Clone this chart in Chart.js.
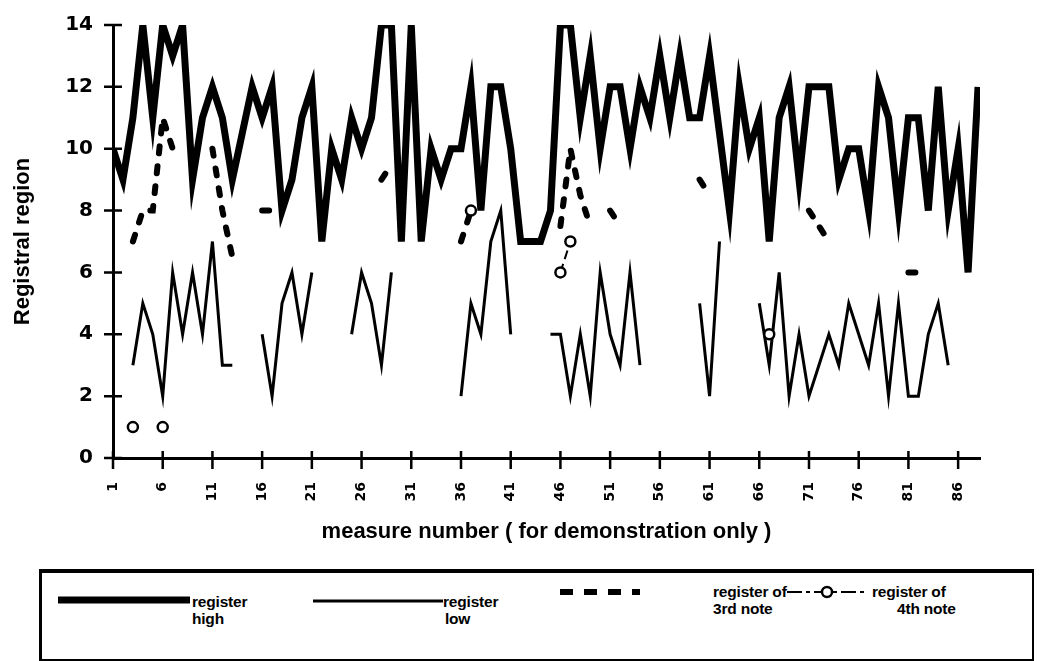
<!DOCTYPE html>
<html>
<head>
<meta charset="utf-8">
<script src="https://cdn.jsdelivr.net/npm/chart.js@4.4.1/dist/chart.umd.min.js"></script>
<style>
  body{margin:0;background:#fff;font-family:"Liberation Sans",Arial,sans-serif;}
  #wrap{position:relative;width:1048px;height:661px;overflow:hidden;}
  #chart{position:absolute;left:0;top:0;}
  #legend{position:absolute;left:39px;top:569px;width:990px;height:86px;border-top:4px solid #000;border-left:3px solid #000;border-right:2px solid #000;border-bottom:2px solid #000;}
  .item{position:absolute;}
  .item svg{position:absolute;overflow:visible;}
  .txt{position:absolute;font-size:15.5px;font-weight:bold;line-height:16.5px;color:#000;white-space:nowrap;letter-spacing:-0.2px;}
</style>
</head>
<body>
<div id="wrap">
  <canvas id="chart" width="1048" height="545"></canvas>
  <div id="legend"></div>
</div>
<script>
/* measures 1..88, register values per measure (null = no note) */
const measures = [1,2,3,4,5,6,7,8,9,10,11,12,13,14,15,16,17,18,19,20,21,22,23,24,25,26,27,28,29,30,
  31,32,33,34,35,36,37,38,39,40,41,42,43,44,45,46,47,48,49,50,51,52,53,54,55,56,57,58,59,60,
  61,62,63,64,65,66,67,68,69,70,71,72,73,74,75,76,77,78,79,80,81,82,83,84,85,86,87,88];
const xTicks = [1,6,11,16,21,26,31,36,41,46,51,56,61,66,71,76,81,86];
const yTicks = [0,2,4,6,8,10,12,14];

const regHigh = [10,9,11,14,11,14,13,14,9,11, 12,11,9,10.5,12,11,12,8,9,11,
  12,7,10,9,11,10,11,14,14,7, 14,7,10,9,10,10,12,8,12,12,
  10,7,7,7,8,14,14,11,13,10, 12,12,10,12,11,13,11,13,11,11,
  13,10.5,8,12,10,11,7,11,12,9, 12,12,12,9,10,10,8,12,11,8,
  11,11,8,12,8,10,6,12];

const regLow = [null,null,3,5,4,2,6,4,6,4, 7,3,3,null,null,4,2,5,6,4,
  6,null,null,null,4,6,5,3,6,null, null,null,null,null,null,2,5,4,7,8,
  4,null,null,null,4,4,2,4,2,6, 4,3,6,3,null,null,null,null,null,5,
  2,7,null,null,null,5,3,6,2,4, 2,3,4,3,5,4,3,5,2,5,
  2,2,4,5,3,null,null,null];

const reg3rd = [null,null,7,8,8,11,10,10,null,null, 10,8,6.5,null,null,8,8,null,null,null,
  null,null,null,null,null,null,null,9,9.5,null, null,null,null,null,null,7,8,null,null,null,
  null,null,null,null,null,7.5,10,8.5,7.5,null, 8,7.5,null,null,null,null,null,null,null,9,
  8.5,null,null,null,null,null,null,null,null,null, 8,7.5,7,null,null,null,null,null,null,null,
  6,6,null,null,null,null,null,null];

const reg4th = [null,null,1,null,null,1,null,null,null,null, null,null,null,null,null,null,null,null,null,null,
  null,null,null,null,null,null,null,null,null,null, null,null,null,null,null,null,8,null,null,null,
  null,null,null,null,null,6,7,null,null,null, null,null,null,null,null,null,null,null,null,null,
  null,null,null,null,null,null,4,null,null,null, null,null,null,null,null,null,null,null,null,null,
  null,null,null,null,null,null,null,null];

function pts(arr){ return measures.map((m,i)=>({x:m, y:arr[i]})); }

// axis tick marks that cross the axis line
const crossTicks = {
  id:'crossTicks',
  afterDraw(chart){
    const {ctx, scales:{x, y}} = chart;
    ctx.save();
    ctx.strokeStyle = '#000';
    ctx.lineWidth = 2.5;
    ctx.beginPath();
    x.ticks.forEach(t=>{
      const px = x.getPixelForValue(t.value);
      ctx.moveTo(px, y.bottom-7); ctx.lineTo(px, y.bottom+11);
    });
    y.ticks.forEach(t=>{
      const py = y.getPixelForValue(t.value);
      ctx.moveTo(x.left-9, py); ctx.lineTo(x.left+9, py);
    });
    ctx.stroke();
    ctx.restore();
  }
};

const font = 'Liberation Sans, Arial, sans-serif';
const tickFont = 'DejaVu Sans, sans-serif';

const chart = new Chart(document.getElementById('chart').getContext('2d'), {
  type:'line',
  data:{
    datasets:[
      { label:'register of 4th note', data:pts(reg4th), order:0,
        borderColor:'#000', borderWidth:2, borderDash:[9,5],
        pointRadius:5, pointBorderWidth:2.5, pointBackgroundColor:'#fff', pointBorderColor:'#000' },
      { label:'register high', data:pts(regHigh), order:1,
        borderColor:'#000', borderWidth:7, pointRadius:0, borderJoinStyle:'miter' },
      { label:'register low', data:pts(regLow), order:2,
        borderColor:'#000', borderWidth:3, pointRadius:0, borderJoinStyle:'miter' },
      { label:'register of 3rd note', data:pts(reg3rd), order:3,
        borderColor:'#000', borderWidth:6, borderDash:[7,13], borderCapStyle:'round', pointRadius:0 }
    ]
  },
  options:{
    responsive:false,
    animation:false,
    devicePixelRatio:1,
    layout:{padding:{top:25, right:68, left:0, bottom:0}},
    plugins:{legend:{display:false}, tooltip:{enabled:false}},
    scales:{
      x:{
        type:'linear', min:1, max:88.2,
        afterBuildTicks(scale){ scale.ticks = xTicks.map(v=>({value:v})); },
        afterFit(scale){ scale.height = 87; },
        grid:{display:false, drawTicks:false},
        border:{display:true, color:'#000', width:3},
        ticks:{autoSkip:false, minRotation:90, maxRotation:90, padding:24, color:'#000',
          font:{family:tickFont, size:14, weight:'bold'}},
        title:{display:true, text:'measure number ( for demonstration only )', color:'#000',
          font:{family:font, size:22, weight:'bold'}, padding:{top:0, bottom:0}}
      },
      y:{
        min:0, max:14,
        afterBuildTicks(scale){ scale.ticks = yTicks.map(v=>({value:v})); },
        afterFit(scale){ scale.width = 113; scale.paddingTop = 0; scale.paddingBottom = 0; },
        grid:{display:false, drawTicks:false},
        border:{display:true, color:'#000', width:3},
        ticks:{padding:20, color:'#000', font:{family:tickFont, size:20, weight:'bold'}},
        title:{display:true, text:'Registral region', color:'#000',
          font:{family:font, size:22, weight:'bold'}, padding:{top:10, bottom:0}}
      }
    }
  },
  plugins:[crossTicks]
});

// html legend built from the datasets
const legendPos = {
  'register high':        {x:16,  y:27, w:132, tx:150, ty:21, lines:['register','high'], indent:0},
  'register low':         {x:271, y:28, w:130, tx:401, ty:21, lines:['register','low'], indent:2},
  'register of 3rd note': {x:518, y:19, w:80,  tx:671, ty:11, lines:['register of','3rd note'], indent:0},
  'register of 4th note': {x:745, y:19, w:81,  tx:830, ty:11, lines:['register of','4th note'], indent:25}
};
const dashes = {'register of 3rd note':'13 11', 'register of 4th note':'15 4 4 4'};
const leg = document.getElementById('legend');
['register high','register low','register of 3rd note','register of 4th note'].forEach(name=>{
  const ds = chart.data.datasets.find(d=>d.label===name);
  const p = legendPos[name];
  let svg = '<svg style="left:'+p.x+'px;top:'+(p.y-10)+'px" width="'+p.w+'" height="20">';
  const dash = dashes[name] ? 'stroke-dasharray="'+dashes[name]+'"' : '';
  svg += '<line x1="0" y1="10" x2="'+p.w+'" y2="10" stroke="#000" stroke-width="'+ds.borderWidth+'" '+dash+'/>';
  if(ds.pointRadius) svg += '<circle cx="40" cy="10" r="5" fill="#fff" stroke="#000" stroke-width="2.5"/>';
  svg += '</svg>';
  const t = '<div class="txt" style="left:'+p.tx+'px;top:'+p.ty+'px">'+p.lines[0]+
    '<br><span style="padding-left:'+p.indent+'px">'+p.lines[1]+'</span></div>';
  const el = document.createElement('div');
  el.className = 'item';
  el.innerHTML = svg + t;
  leg.appendChild(el);
});
</script>
</body>
</html>
